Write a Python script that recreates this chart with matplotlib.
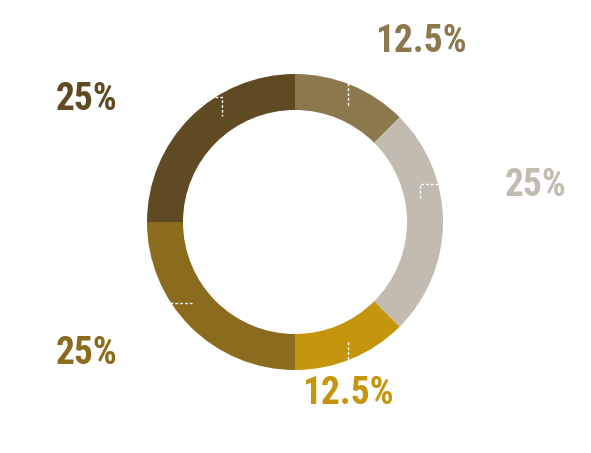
import matplotlib
matplotlib.use("Agg")
import matplotlib.pyplot as plt

# Données du graphique (ordre horaire depuis le haut)
labels = ["12.5%", "25%", "12.5%", "25%", "25%"]
values = [12.5, 25, 12.5, 25, 25]
colors = ["#8C784D", "#C1BCAF", "#C4950D", "#8B6C1F", "#5F4A23"]

# Positions des étiquettes (pixels, origine en haut à gauche)
label_pos = [(421, 41), (536, 185), (348, 393), (87, 353), (87, 99)]

# Petits traits pointillés blancs dans les secteurs (pixels)
leaders = [
    [(348, 83), (348, 106)],
    [(438, 184), (420, 184), (420, 200)],
    [(348, 342), (348, 360)],
    [(170, 303), (192, 303)],
    [(215, 97), (222, 97), (222, 116)],
]

W, H = 591, 453
fig = plt.figure(figsize=(W / 100, H / 100), dpi=100)
ax = fig.add_axes([0, 0, 1, 1])
ax.set_aspect("equal")
ax.axis("off")

ax.pie(values, colors=colors, startangle=90, counterclock=False,
       center=(295, H - 222), radius=148,
       wedgeprops=dict(width=36, linewidth=0))

ax.set_xlim(0, W)
ax.set_ylim(0, H)

for pts in leaders:
    xs = [p[0] for p in pts]
    ys = [H - p[1] for p in pts]
    ax.plot(xs, ys, color="white", lw=1, ls=(0, (2, 1.5)))

for lab, (x, y), c in zip(labels, label_pos, colors):
    ax.text(x, H - y, lab, color=c, fontsize=27, fontweight="bold",
            family="Roboto Condensed", ha="center", va="center")

fig.savefig("out.png", dpi=100)
